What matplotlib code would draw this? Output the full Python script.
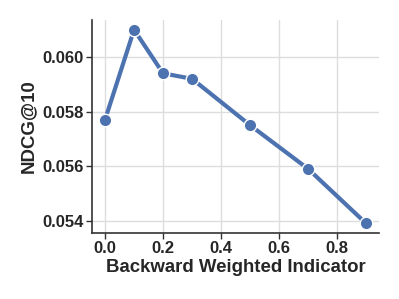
import matplotlib
matplotlib.use("Agg")
import matplotlib.pyplot as plt
import seaborn as sns

# backward weighted indicator sweep
weights = [0.0, 0.1, 0.2, 0.3, 0.5, 0.7, 0.9]
ndcg = [0.0577, 0.0610, 0.0594, 0.0592, 0.0575, 0.0559, 0.0539]
xticks = [0.0, 0.2, 0.4, 0.6, 0.8]
yticks = [0.054, 0.056, 0.058, 0.060]

sns.set_style("whitegrid")
plt.rcParams["font.family"] = ["Liberation Sans", "DejaVu Sans"]

fig = plt.figure(figsize=(3.99, 2.99), dpi=100)
ax = fig.add_axes([0.2306, 0.2207, 0.7194, 0.7123])
ax.plot(weights, ndcg, "-o", color="#4c72b0", lw=3, ms=9,
        markeredgecolor="white", markeredgewidth=1)

ax.set_xticks(xticks)
ax.set_yticks(yticks)
ax.set_xticklabels([f"{v:.1f}" for v in xticks], fontsize=12, fontweight="bold", color="#262626")
ax.set_yticklabels([f"{v:.3f}" for v in yticks], fontsize=12, fontweight="bold", color="#262626")
ax.set_xlabel("Backward Weighted Indicator", fontsize=13.4, fontweight="bold", color="#262626", labelpad=2)
ax.set_ylabel("NDCG@10", fontsize=13.4, fontweight="bold", color="#262626", labelpad=4)
ax.grid(True, color="#dddddd", lw=1)
ax.tick_params(axis="both", length=4, width=1, color="#333333", pad=2, left=True, bottom=True)
for s in ["top", "right"]:
    ax.spines[s].set_visible(False)
for s in ["left", "bottom"]:
    ax.spines[s].set_color("#333333")
    ax.spines[s].set_linewidth(1.2)

fig.savefig("out.png", dpi=100)
